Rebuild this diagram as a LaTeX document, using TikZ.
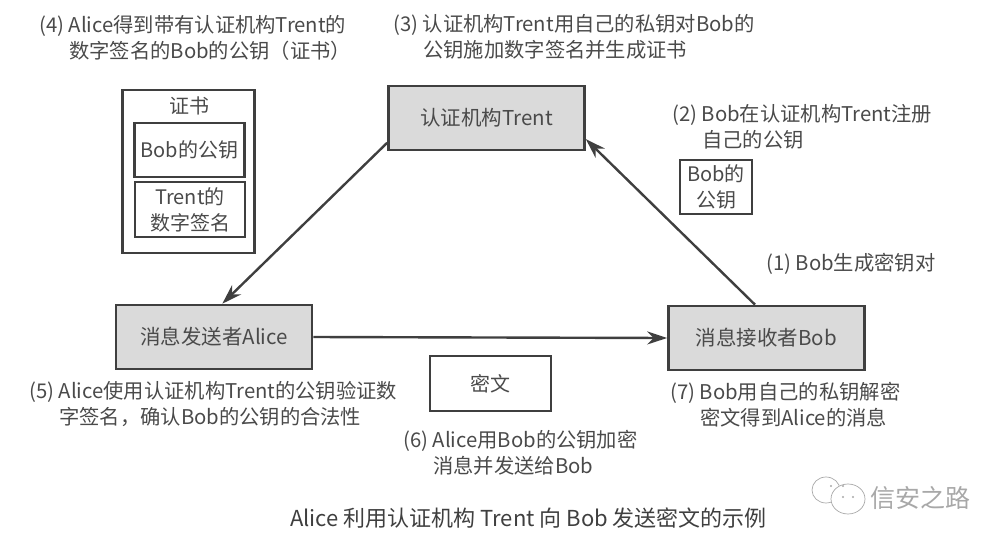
\documentclass[tikz,border=0pt]{standalone}
\usepackage{fontspec}
\usepackage{tikz}
\usepackage{xcolor}
\usetikzlibrary{arrows.meta}
\setmainfont{Noto Sans CJK SC}
\definecolor{inkdark}{HTML}{3F3F3F}
\definecolor{inktext}{HTML}{4A4A4A}
\definecolor{boxgray}{HTML}{DADADA}
\definecolor{markgray}{HTML}{A8A8A8}
\newcommand{\hangline}{\\\hspace*{30pt}}

\begin{document}
\begin{tikzpicture}[
  x=1pt, y=-1pt,
  party/.style={draw=inkdark, fill=boxgray, line width=2.6pt, minimum width=196pt, minimum height=64pt, text=inktext, font=\fontsize{20.5}{24}\selectfont, inner sep=0pt},
  plainbox/.style={draw=inkdark, line width=2.2pt, fill=white, text=inktext, font=\fontsize{20}{26}\selectfont, align=center, inner sep=0pt},
  steplabel/.style={anchor=west, align=left, inner sep=0pt, text=inktext, font=\fontsize{20.3}{26}\selectfont},
  link/.style={draw=inkdark, line width=2.4pt, -{Stealth[length=20pt,width=13pt]}},
]
\useasboundingbox (0,0) rectangle (1001,543);

% the three parties
\node[party] (trent) at (486.5,118) {认证机构Trent};
\node[party] (alice) at (214,337) {消息发送者Alice};
\node[party] (bob) at (766.5,338) {消息接收者Bob};

% arrows between them
\draw[link] (trent.194) -- (alice.76);
\draw[link] (bob.109) -- (trent.-12);
\draw[link] (alice.east) -- (bob.west);

% certificate
\node[plainbox, minimum width=132pt, minimum height=163pt] (cert) at (188.5,171.5) {};
\node[text=inktext, font=\fontsize{20}{24}\selectfont, inner sep=0pt] (certtitle) at (189,106) {证书};
\node[plainbox, minimum width=110pt, minimum height=54pt] (certkey) at (189.5,150) {Bob的公钥};
\node[plainbox, minimum width=110pt, minimum height=55pt] (certsign) at (190,209.5) {Trent的\\数字签名};

% loose boxes
\node[plainbox, minimum width=72pt, minimum height=54pt] (regkey) at (716,187) {Bob的\\公钥};
\node[plainbox, minimum width=121pt, minimum height=55pt] (cipher) at (490.5,383.5) {密文};

% step labels
\node[steplabel] (stepone) at (766,264) {(1) Bob生成密钥对};
\node[steplabel] (steptwo) at (672,127) {(2) Bob在认证机构Trent注册\hangline 自己的公钥};
\node[steplabel] (stepthree) at (393,37) {(3) 认证机构Trent用自己的私钥对Bob的\hangline 公钥施加数字签名并生成证书};
\node[steplabel] (stepfour) at (39,38) {(4) Alice得到带有认证机构Trent的\hangline 数字签名的Bob的公钥（证书）};
\node[steplabel] (stepfive) at (29,404) {(5) Alice使用认证机构Trent的公钥验证数\hangline 字签名，确认Bob的公钥的合法性};
\node[steplabel] (stepsix) at (403,453) {(6) Alice用Bob的公钥加密\hangline 消息并发送给Bob};
\node[steplabel] (stepseven) at (670,405) {(7) Bob用自己的私钥解密\hangline 密文得到Alice的消息};

% caption
\node[text=inkdark, font=\fontsize{22}{24}\selectfont, inner sep=0pt] (caption) at (528.5,518) {Alice 利用认证机构 Trent 向 Bob 发送密文的示例};

% watermark
\draw[markgray, line width=0.7pt] (826,490) ellipse (14pt and 13pt);
\draw[markgray, line width=0.7pt, fill=white] (848,499) ellipse (17pt and 15pt);
\foreach \dx/\dy in {831/486,843/486,843/497,853/497} {
  \fill[markgray] (\dx,\dy) circle (1.2pt);
}
\node[text=markgray, font=\fontsize{25}{28}\selectfont, inner sep=0pt] (mark) at (920,498) {信安之路};
\end{tikzpicture}
\end{document}
